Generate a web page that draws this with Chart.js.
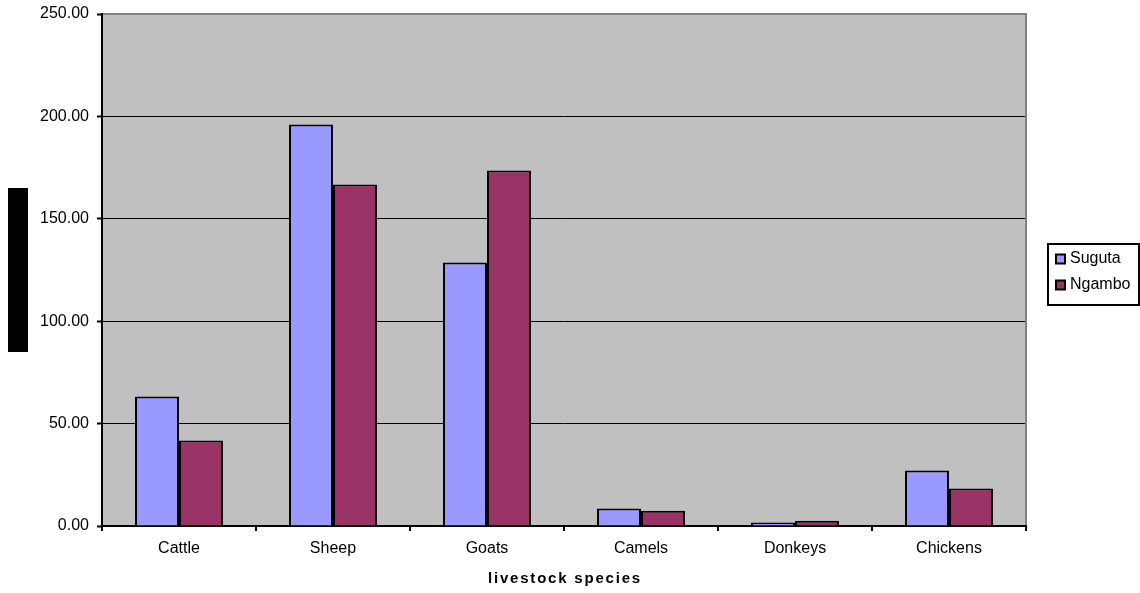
<!DOCTYPE html>
<html>
<head>
<meta charset="utf-8">
<title>Livestock species</title>
<script src="https://cdn.jsdelivr.net/npm/chart.js@4/dist/chart.umd.min.js"></script>
<style>
  html, body { margin: 0; padding: 0; background: #ffffff; }
  #c { display: block; }
</style>
</head>
<body>
<canvas id="c" width="1140" height="593"></canvas>
<script>
// Livestock holdings per household by species, two sites
const categories = ['Cattle', 'Sheep', 'Goats', 'Camels', 'Donkeys', 'Chickens'];
const seriesNames = ['Suguta', 'Ngambo'];
const sugutaValues = [63.2, 196.1, 128.7, 8.5, 1.7, 27.1];
const ngamboValues = [41.7, 166.8, 173.6, 7.5, 2.6, 18.3];
const yTicks = [0, 50, 100, 150, 200, 250];
const xAxisTitle = 'livestock species';

const FONT = '"Liberation Sans", Arial, Helvetica, sans-serif';
Chart.defaults.font.family = FONT;
Chart.defaults.color = '#000000';

// Grey plot background with a darker frame on the top and right edges
const plotFrame = {
  id: 'plotFrame',
  beforeDraw(chart) {
    const { ctx, chartArea: a } = chart;
    ctx.save();
    ctx.fillStyle = '#C0C0C0';
    ctx.fillRect(a.left, a.top, a.right - a.left, a.bottom - a.top);
    ctx.restore();
  },
  afterDraw(chart) {
    const { ctx, chartArea: a } = chart;
    ctx.save();
    ctx.strokeStyle = '#808080';
    ctx.lineWidth = 2;
    ctx.beginPath();
    ctx.moveTo(a.left + 1, a.top);
    ctx.lineTo(a.right, a.top);
    ctx.lineTo(a.right, a.bottom - 1);
    ctx.stroke();
    ctx.restore();
  }
};

// Bordered legend box to the right of the plot, spaced-out axis title, and the y title block
const extras = {
  id: 'extras',
  afterDraw(chart) {
    const { ctx, chartArea: a } = chart;
    ctx.save();

    // y-axis title block
    ctx.fillStyle = '#000000';
    ctx.fillRect(8, 188, 20, 164);

    // x-axis title with letter spacing
    ctx.font = 'bold 15px ' + FONT;
    ctx.fillStyle = '#000000';
    ctx.textAlign = 'center';
    ctx.textBaseline = 'middle';
    if ('letterSpacing' in ctx) ctx.letterSpacing = '1.8px';
    ctx.fillText(xAxisTitle, (a.left + a.right) / 2 + 1, 579);
    if ('letterSpacing' in ctx) ctx.letterSpacing = '0px';

    // legend
    const boxL = 1048, boxT = 244, boxW = 91, boxH = 61;
    ctx.strokeStyle = '#000000';
    ctx.lineWidth = 2;
    ctx.strokeRect(boxL, boxT, boxW, boxH);
    ctx.font = '16px ' + FONT;
    ctx.textAlign = 'left';
    ctx.textBaseline = 'middle';
    chart.data.datasets.forEach((ds, i) => {
      const cy = 259 + i * 26;
      ctx.fillStyle = ds.backgroundColor;
      ctx.fillRect(1056, cy - 4.5, 9, 9);
      ctx.lineWidth = 2;
      ctx.strokeStyle = '#000000';
      ctx.strokeRect(1056, cy - 4.5, 9, 9);
      ctx.fillStyle = '#000000';
      ctx.fillText(ds.label, 1070, cy);
    });
    ctx.restore();
  }
};

new Chart(document.getElementById('c'), {
  type: 'bar',
  data: {
    labels: categories,
    datasets: [
      {
        label: seriesNames[0],
        data: sugutaValues,
        backgroundColor: '#9999FF',
        borderColor: '#000000',
        borderWidth: 2
      },
      {
        label: seriesNames[1],
        data: ngamboValues,
        backgroundColor: '#993366',
        borderColor: '#000000',
        borderWidth: 2
      }
    ]
  },
  options: {
    responsive: false,
    devicePixelRatio: 1,
    animation: false,
    layout: { padding: { top: 14, right: 114, bottom: 0, left: 0 } },
    datasets: {
      bar: { barPercentage: 1, categoryPercentage: 88 / 154 }
    },
    plugins: {
      legend: { display: false },
      tooltip: { enabled: false },
      title: { display: false }
    },
    scales: {
      x: {
        grid: {
          display: true,
          drawOnChartArea: false,
          drawTicks: true,
          tickLength: 5,
          color: '#000000',
          lineWidth: 2,
          offset: true
        },
        border: { display: true, color: '#000000', width: 2 },
        ticks: { font: { size: 16 }, color: '#000000', padding: 8, maxRotation: 0 },
        afterFit(scale) { scale.height = 67; }
      },
      y: {
        min: 0,
        max: 250,
        afterBuildTicks(scale) { scale.ticks = yTicks.map(v => ({ value: v })); },
        grid: {
          color: '#000000',
          lineWidth: 1,
          drawTicks: true,
          tickLength: 5,
          tickColor: '#000000',
          tickWidth: 2
        },
        border: { display: true, color: '#000000', width: 2 },
        ticks: {
          font: { size: 16 },
          color: '#000000',
          padding: 8,
          callback: (v) => Number(v).toFixed(2)
        },
        afterFit(scale) {
          scale.width = 102;
          scale.paddingTop = 0;
          scale.paddingBottom = 0;
        }
      }
    }
  },
  plugins: [plotFrame, extras]
});
</script>
</body>
</html>
